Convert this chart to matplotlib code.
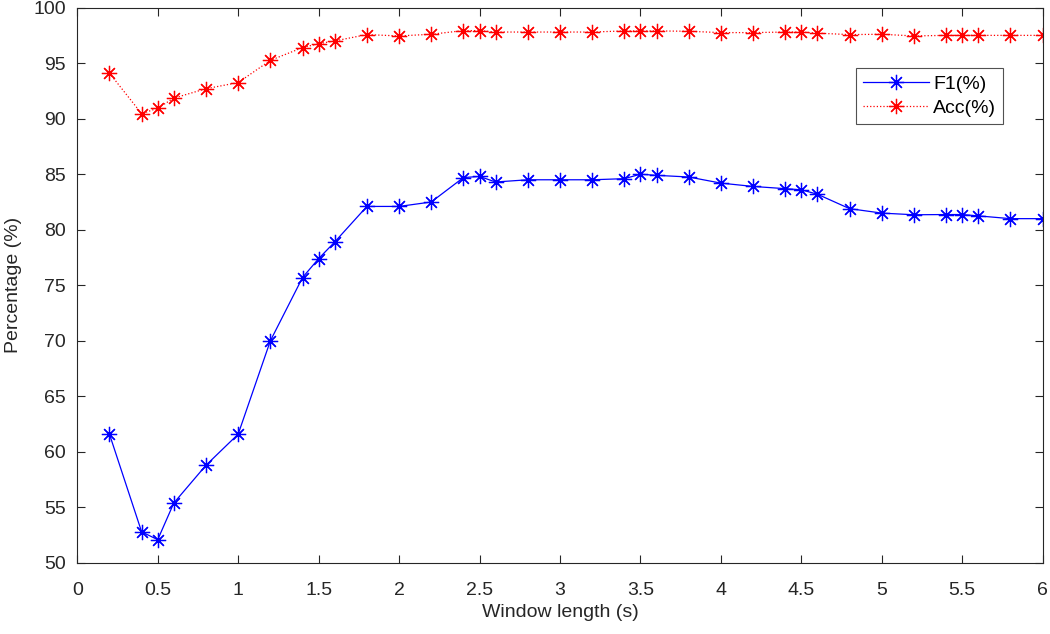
import matplotlib
matplotlib.use('Agg')
import matplotlib.pyplot as plt

plt.rcParams['font.family'] = ['Liberation Sans', 'DejaVu Sans']

# window lengths (s)
window = [0.2, 0.4, 0.5, 0.6, 0.8, 1.0, 1.2, 1.4, 1.5, 1.6, 1.8, 2.0, 2.2, 2.4,
          2.5, 2.6, 2.8, 3.0, 3.2, 3.4, 3.5, 3.6, 3.8, 4.0, 4.2, 4.4, 4.5, 4.6,
          4.8, 5.0, 5.2, 5.4, 5.5, 5.6, 5.8, 6.0]

f1 = [61.6, 52.8, 52.1, 55.4, 58.8, 61.6, 70.0, 75.7, 77.4, 78.9, 82.1, 82.1,
      82.5, 84.7, 84.8, 84.3, 84.5, 84.5, 84.5, 84.6, 85.0, 84.9, 84.75, 84.2,
      83.9, 83.7, 83.6, 83.2, 81.9, 81.5, 81.35, 81.37, 81.37, 81.25, 81.0, 81.0]

acc = [94.1, 90.45, 90.95, 91.85, 92.7, 93.25, 95.25, 96.4, 96.75, 97.0, 97.57,
       97.45, 97.6, 97.93, 97.93, 97.8, 97.8, 97.8, 97.8, 97.9, 97.9, 97.9,
       97.87, 97.75, 97.75, 97.8, 97.8, 97.7, 97.57, 97.6, 97.45, 97.5, 97.5,
       97.5, 97.5, 97.5]

xticks = [0, 0.5, 1, 1.5, 2, 2.5, 3, 3.5, 4, 4.5, 5, 5.5, 6]
xticklabels = ['0', '0.5', '1', '1.5', '2', '2.5', '3', '3.5', '4', '4.5', '5', '5.5', '6']
yticks = [50, 55, 60, 65, 70, 75, 80, 85, 90, 95, 100]

dark = '#262626'
star = (8, 2, 0)

fig = plt.figure(figsize=(10.5, 6.34), dpi=100)
ax = fig.add_axes([0.0736, 0.112, 0.9194, 0.876])

ax.plot(window, f1, color='blue', linestyle='-', linewidth=0.9,
        marker=star, markersize=11, markeredgewidth=0.9, label='F1(%)')
ax.plot(window, acc, color='red', linestyle=':', linewidth=0.9,
        marker=star, markersize=11, markeredgewidth=0.9, label='Acc(%)')

ax.set_xlim(0, 6)
ax.set_ylim(50, 100)
ax.set_xticks(xticks)
ax.set_xticklabels(xticklabels)
ax.set_yticks(yticks)

ax.tick_params(direction='in', top=True, right=True, length=6, width=0.8,
               colors=dark, labelsize=14)
ax.tick_params(axis='x', pad=14)
ax.tick_params(axis='y', pad=8)
for s in ax.spines.values():
    s.set_color(dark)
    s.set_linewidth(0.8)

ax.set_xlabel('Window length (s)', fontsize=14, color=dark, labelpad=3)
ax.set_ylabel('Percentage (%)', fontsize=14, color=dark, labelpad=8)

leg = ax.legend(loc='upper right', bbox_to_anchor=(0.959, 0.891), fontsize=14,
                frameon=True, fancybox=False, handlelength=3.4, borderpad=0.35,
                labelspacing=0.35, handletextpad=0.2, borderaxespad=0)
leg.get_frame().set_edgecolor(dark)
leg.get_frame().set_linewidth(0.8)

fig.savefig('out.png', dpi=100)
